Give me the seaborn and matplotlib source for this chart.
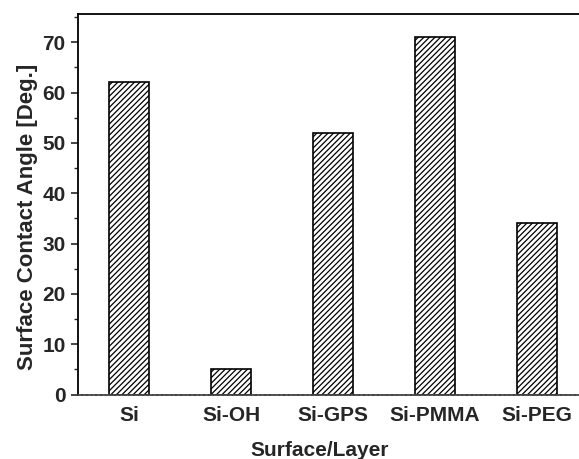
import matplotlib
matplotlib.use('Agg')
import matplotlib.pyplot as plt
import seaborn as sns
import pandas as pd
from matplotlib.ticker import MultipleLocator

surfaces = ['Si', 'Si-OH', 'Si-GPS', 'Si-PMMA', 'Si-PEG']
contact_angle = [62, 5, 52, 71, 34]

df = pd.DataFrame({'Surface': surfaces, 'Angle': contact_angle})

sns.set_style('ticks')
plt.rcParams['font.family'] = ['Liberation Sans', 'DejaVu Sans']
plt.rcParams['font.weight'] = 'bold'
plt.rcParams['hatch.linewidth'] = 0.9

fig = plt.figure(figsize=(5.79, 4.59), dpi=100)
ax = fig.add_axes([78 / 579, 1 - 394.5 / 459, 510 / 579, 380.5 / 459])

sns.barplot(x='Surface', y='Angle', data=df, order=surfaces, color='white',
            saturation=1, width=0.4, edgecolor='black', linewidth=1.2,
            hatch='//////', ax=ax)

ax.set_xlim(-0.5, 4.5)
ax.set_ylim(0, 75.6)
ax.yaxis.set_major_locator(MultipleLocator(10))
ax.yaxis.set_minor_locator(MultipleLocator(5))
ax.tick_params(axis='y', which='major', length=5, width=1.2, labelsize=15, pad=4)
ax.tick_params(axis='y', which='minor', length=3, width=1.0)
ax.tick_params(axis='x', length=0, labelsize=15, pad=8)
for lab in ax.get_xticklabels() + ax.get_yticklabels():
    lab.set_fontweight('bold')

for side in ['left', 'top', 'right']:
    ax.spines[side].set_linewidth(1.3)
    ax.spines[side].set_color('black')
ax.spines['bottom'].set_linewidth(1.3)
ax.spines['bottom'].set_color('#444444')
ax.spines['bottom'].set_linestyle((0, (2, 0.6)))

ax.set_xlabel('Surface/Layer', fontsize=15, fontweight='bold')
ax.set_ylabel('Surface Contact Angle [Deg.]', fontsize=16, fontweight='bold')
ax.xaxis.set_label_coords((320 - 78) / 510, -(450 - 394.5) / 380.5)
ax.yaxis.set_label_coords(-(78 - 28) / 510, (394.5 - 217) / 380.5)
ax.xaxis.label.set_va('center')
ax.yaxis.label.set_va('center')

fig.savefig('out.png', dpi=100)
